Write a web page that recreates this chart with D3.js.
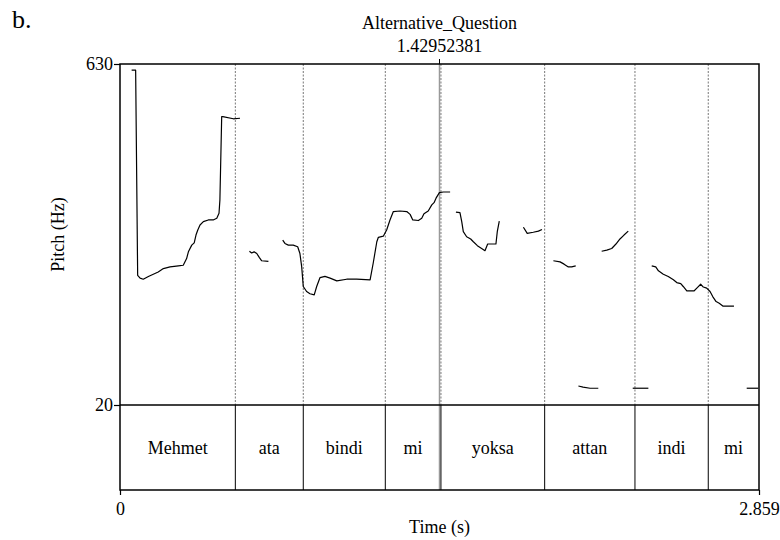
<!DOCTYPE html>
<html>
<head>
<meta charset="utf-8">
<script src="https://cdn.jsdelivr.net/npm/d3@7"></script>
<style>
  body { margin: 0; background: #fff; }
  svg text { font-family: "Liberation Serif", "DejaVu Serif", serif !important; fill: #000; }
</style>
</head>
<body>
<svg id="chart" width="780" height="540" font-family="Liberation Serif, serif"></svg>
<script>
const tMax = 2.859;
const fMin = 20, fMax = 630;
const cursorTime = 1.42952381;

// word tier
const words = ["Mehmet", "ata", "bindi", "mi", "yoksa", "attan", "indi", "mi"];
const bounds = [0, 0.516, 0.820, 1.187, 1.436, 1.900, 2.304, 2.632, 2.859];

// pitch contour pieces, [time (s), Hz]
const seg1 = [[0.052,619],[0.070,619],[0.079,252],[0.090,247],[0.104,245],[0.127,250],[0.171,258],[0.194,264],
  [0.224,267],[0.261,269],[0.283,270],[0.298,282],[0.306,294],[0.321,306],[0.332,310],[0.340,324],[0.348,333],
  [0.358,342],[0.373,348],[0.395,351],[0.417,351],[0.433,354],[0.443,363],[0.447,387],[0.455,536],[0.460,536],
  [0.507,532],[0.537,533]];
const seg2 = [[0.579,295],[0.589,292],[0.600,294],[0.612,291],[0.623,284],[0.634,278],[0.664,277]];
const seg3 = [[0.728,315],[0.738,309],[0.753,306],[0.775,306],[0.795,303],[0.805,291],[0.813,267],[0.820,232],
  [0.835,223],[0.850,219],[0.869,217],[0.880,232],[0.895,248],[0.917,250],[0.940,247],[0.970,242],[1.014,245],
  [1.059,245],[1.119,244],[1.133,274],[1.149,312],[1.156,320],[1.178,322],[1.193,333],[1.208,351],[1.223,366],
  [1.253,367],[1.283,366],[1.298,361],[1.310,351],[1.335,350],[1.350,354],[1.360,362],[1.379,367],[1.395,378],
  [1.405,382],[1.414,390],[1.429,400],[1.447,401],[1.477,401]];
const seg4 = [[1.503,365],[1.521,364],[1.529,348],[1.536,330],[1.551,321],[1.569,317],[1.581,312],[1.599,305],
  [1.618,300],[1.633,296],[1.645,308],[1.682,308],[1.688,330],[1.697,349]];
const seg5 = [[1.805,338],[1.822,327],[1.849,329],[1.872,331],[1.888,334]];
const seg6 = [[1.939,278],[1.969,276],[1.987,272],[2.006,267],[2.021,267],[2.039,269]];
const seg7 = [[2.155,295],[2.178,297],[2.200,300],[2.219,308],[2.237,317],[2.255,324],[2.274,331]];
const seg8 = [[2.379,269],[2.397,267],[2.409,260],[2.431,254],[2.453,250],[2.476,244],[2.491,239],[2.509,237],
  [2.520,232],[2.536,224],[2.568,224],[2.583,230],[2.598,236],[2.610,231],[2.625,229],[2.640,223],[2.652,214],
  [2.667,205],[2.681,202],[2.697,197],[2.747,197]];
const seg9 = [[2.051,54],[2.072,52],[2.103,50],[2.140,50]];
const seg10 = [[2.294,50],[2.364,50]];
const seg11 = [[2.804,50],[2.856,50]];
const segments = [seg1, seg2, seg3, seg4, seg5, seg6, seg7, seg8, seg9, seg10, seg11];

const svg = d3.select("#chart");
const mLeft = 120, mRight = 759, mTop = 64, pitchBottom = 405, tierBottom = 490;
const fs = 18;

const x = d3.scaleLinear().domain([0, tMax]).range([mLeft, mRight]);
const y = d3.scaleLinear().domain([fMin, fMax]).range([pitchBottom, mTop]);

// panel label
svg.append("text").attr("x", 12).attr("y", 28).attr("font-size", 26).text("b.");

// boundaries in pitch area (dotted)
svg.append("g").selectAll("line")
  .data(bounds.slice(1, -1))
  .join("line")
  .attr("x1", d => x(d)).attr("x2", d => x(d))
  .attr("y1", mTop).attr("y2", pitchBottom)
  .attr("stroke", "#777").attr("stroke-width", 1)
  .attr("stroke-dasharray", "2,1.5");

// cursor
svg.append("line")
  .attr("x1", x(cursorTime)).attr("x2", x(cursorTime))
  .attr("y1", mTop).attr("y2", tierBottom)
  .attr("stroke", "#999").attr("stroke-width", 1.5);
svg.append("line")
  .attr("x1", x(cursorTime)).attr("x2", x(cursorTime))
  .attr("y1", mTop - 5).attr("y2", mTop)
  .attr("stroke", "#000").attr("stroke-width", 1);

// pitch contour
const line = d3.line().x(d => x(d[0])).y(d => y(d[1]));
svg.append("g").selectAll("path")
  .data(segments)
  .join("path")
  .attr("d", line)
  .attr("fill", "none")
  .attr("stroke", "#000")
  .attr("stroke-width", 1.2)
  .attr("stroke-linejoin", "round");

// tier boundaries (solid)
svg.append("g").selectAll("line")
  .data(bounds.slice(1, -1))
  .join("line")
  .attr("x1", d => x(d)).attr("x2", d => x(d))
  .attr("y1", pitchBottom).attr("y2", tierBottom)
  .attr("stroke", "#000").attr("stroke-width", 1);

// tier labels
svg.append("g").selectAll("text")
  .data(words)
  .join("text")
  .attr("x", (d, i) => x((bounds[i] + bounds[i + 1]) / 2))
  .attr("y", 454)
  .attr("text-anchor", "middle")
  .attr("font-size", fs)
  .text(d => d);

// frame
svg.append("rect")
  .attr("x", mLeft).attr("y", mTop)
  .attr("width", mRight - mLeft).attr("height", tierBottom - mTop)
  .attr("fill", "none").attr("stroke", "#000").attr("stroke-width", 1.5);
svg.append("line")
  .attr("x1", mLeft).attr("x2", mRight)
  .attr("y1", pitchBottom).attr("y2", pitchBottom)
  .attr("stroke", "#000").attr("stroke-width", 1.5);

// axes
const yAxis = svg.append("g")
  .attr("transform", `translate(${mLeft},0)`)
  .call(d3.axisLeft(y).tickValues([fMin, fMax]).tickSize(6).tickPadding(1).tickFormat(d3.format("d")));
yAxis.attr("font-family", null).attr("font-size", fs);
yAxis.select(".domain").remove();

const xAxis = svg.append("g")
  .attr("transform", `translate(0,${tierBottom})`)
  .call(d3.axisBottom(x).tickValues([0, tMax]).tickSize(5).tickPadding(7).tickFormat(d => d === 0 ? "0" : d3.format(".3f")(d)));
xAxis.attr("font-family", null).attr("font-size", fs);
xAxis.select(".domain").remove();
svg.selectAll(".tick line").attr("stroke", "#000").attr("stroke-width", 1.2);

// titles
svg.append("text").attr("x", x(cursorTime)).attr("y", 29)
  .attr("text-anchor", "middle").attr("font-size", fs).text("Alternative_Question");
svg.append("text").attr("x", x(cursorTime)).attr("y", 52)
  .attr("text-anchor", "middle").attr("font-size", fs).text(cursorTime.toFixed(8));

svg.append("text")
  .attr("transform", `translate(64,${(mTop + pitchBottom) / 2}) rotate(-90)`)
  .attr("text-anchor", "middle").attr("font-size", fs).text("Pitch (Hz)");
svg.append("text").attr("x", (mLeft + mRight) / 2).attr("y", 533)
  .attr("text-anchor", "middle").attr("font-size", fs).text("Time (s)");
</script>
</body>
</html>
